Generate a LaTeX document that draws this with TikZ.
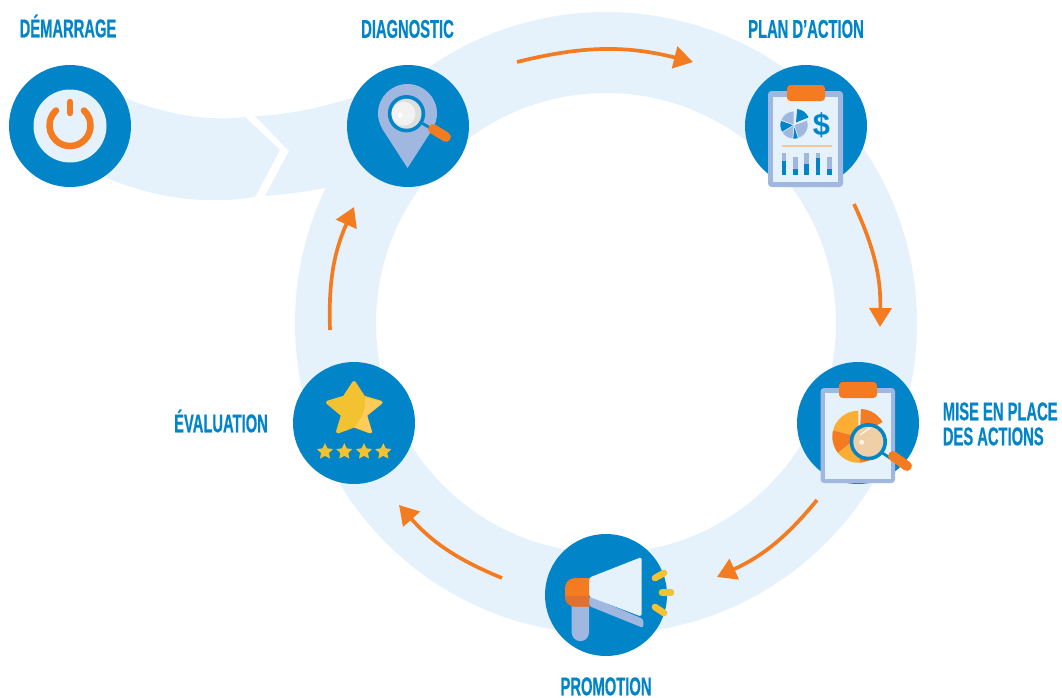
\documentclass[tikz,border=0pt]{standalone}
\usepackage{fontspec}
\usetikzlibrary{positioning,calc,arrows.meta,shapes.geometric}
\newfontfamily\labelfont[FakeStretch=0.575,FakeBold=0.5]{Liberation Sans Bold}
\newfontfamily\dollarfont{Liberation Sans Bold}
\definecolor{bluedisc}{HTML}{0284C8}
\definecolor{ringblue}{HTML}{E5F2FB}
\definecolor{paleblue}{HTML}{A0B8E0}
\definecolor{flowor}{HTML}{F47B20}
\definecolor{darkor}{HTML}{E07030}
\definecolor{lightor}{HTML}{FBAE33}
\definecolor{peach}{HTML}{EFCFA5}
\definecolor{yellowst}{HTML}{F2C230}
\definecolor{lightst}{HTML}{FFCC5C}

\begin{document}
\begin{tikzpicture}[x=0.02cm,y=-0.02cm]
        \tikzstyle{disc}=[circle, fill=bluedisc, inner sep=0pt, minimum size=2.44cm]
        \tikzstyle{steplabel}=[text=bluedisc, inner sep=0pt, text height=0.37cm, text depth=0pt, font=\labelfont\fontsize{14.6}{16}\selectfont]
        \tikzstyle{flow}=[draw=flowor, line width=2.1pt, -{Triangle[length=0.38cm,width=0.44cm]}]
        \tikzstyle{tinystar}=[star, star points=5, star point ratio=2.05, fill=yellowst, inner sep=0pt, minimum size=0.34cm]

        \useasboundingbox (0,0) rectangle (1062,697);

        \fill[ringblue, even odd rule] (606,323) circle [radius=311] (606,323) circle [radius=230];
        \fill[ringblue] (120,96) .. controls (160,113) and (205,122) .. (245,117) -- (280,150) -- (255,197)
            .. controls (205,205) and (155,198) .. (107,178) -- (70,126) -- cycle;
        \fill[ringblue] (255,116) .. controls (290,115) and (322,107) .. (355,97) -- (408,126) -- (345,190)
            -- (325,188) .. controls (305,192) and (285,194) .. (265,196) -- (289,151) -- cycle;

        \node[disc] (start) at (70,126) {};
        \node[disc] (diag) at (408,126) {};
        \node[disc] (plan) at (806,126) {};
        \node[disc] (mise) at (858,423) {};
        \node[disc] (promo) at (606,595) {};
        \node[disc] (eval) at (354,423) {};

        \node[steplabel] (startlabel) at (68,28) {DÉMARRAGE};
        \node[steplabel] (diaglabel) at (407.5,28.5) {DIAGNOSTIC};
        \node[steplabel] (planlabel) at (806,28.5) {PLAN D’ACTION};
        \node[steplabel, anchor=west] (miselabel) at (942.5,411) {MISE EN PLACE};
        \node[steplabel, anchor=west] (miselabelb) at (942.5,436) {DES ACTIONS};
        \node[steplabel] (promolabel) at (606,686) {PROMOTION};
        \node[steplabel] (evallabel) at (221,423) {ÉVALUATION};

        \coordinate (fa) at (517,62);
        \coordinate (fb) at (693,62);
        \coordinate (fc) at (854,204);
        \coordinate (fd) at (880,327);
        \coordinate (fe) at (817,500);
        \coordinate (ff) at (717,577);
        \coordinate (fg) at (502,578);
        \coordinate (fh) at (399,505);
        \coordinate (fi) at (330,330);
        \coordinate (fj) at (354,207);
        \draw[flow] (fa) to[bend left=14] (fb);
        \draw[flow] (fc) to[bend left=13] (fd);
        \draw[flow] (fe) to[bend left=13] (ff);
        \draw[flow] (fg) to[bend left=13] (fh);
        \draw[flow] (fi) to[bend left=13] (fj);

        \fill[ringblue] (70,126) circle [radius=36.5];
        \draw[flowor, line width=3.7pt, line cap=round] ($(70,125.5)+(-47:20.5)$) arc [start angle=-47, end angle=227, radius=20.5];
        \draw[flowor, line width=3.7pt, line cap=round] (70,102) -- (70,113);

        \fill[paleblue] (407.5,168) -- (383,130) .. controls (379,123) and (378,118) .. (378,113.5)
            arc [start angle=180, end angle=360, radius=29.5] .. controls (437,118) and (436,123) .. (432,130) -- cycle;
        \draw[bluedisc, line width=1.6pt] (420,122) -- (432,129);
        \draw[flowor, line width=5.6pt, line cap=round] (433,129) -- (446,137);
        \fill[bluedisc] (406.5,113.7) circle [radius=18.7];
        \fill[black!13] (406.5,113.7) circle [radius=15];
        \fill[black!5] (403.5,113.7) circle [radius=12];
        \fill[white] (400,115) circle [radius=2.5];

        \fill[paleblue, rounded corners=2pt] (768,91) rectangle (843,187);
        \fill[ringblue] (773,97) rectangle (838,182);
        \fill[flowor, rounded corners=2pt] (787,101) -- (787,85) -- (825,85) -- (825,101) -- cycle;
        \foreach \a/\b/\c in {-20/72/paleblue, 72/95/bluedisc, 95/149/paleblue, 149/200/bluedisc, 200/270/paleblue}
            \filldraw[fill=\c, draw=ringblue, line width=0.3pt] (794,125) -- ++(\a:14) arc [start angle=\a, end angle=\b, radius=14] -- cycle;
        \fill[bluedisc] (796,122.5) -- ++(-85:13.5) arc [start angle=-85, end angle=-22, radius=13.5] -- cycle;
        \node[text=bluedisc, inner sep=0pt, font=\dollarfont\fontsize{17.5}{18}\selectfont] (dollar) at (821.5,125) {\$};
        \draw[flowor!45, line width=0.9pt] (782,146) -- (832,146);
        \foreach \x/\t/\m in {784/152.7/160.7, 795.7/156.7/169.3, 806.7/152.7/164.3, 818/152.7/158.3, 829.3/156.7/169.3} {
            \fill[paleblue] ({\x-2.3},\t) rectangle ({\x+2.3},\m);
            \fill[bluedisc] ({\x-2.3},\m) rectangle ({\x+2.3},175);
        }

        \fill[paleblue, rounded corners=2pt] (820.5,388) rectangle (895,483);
        \fill[ringblue] (825,393) rectangle (891,479);
        \fill[flowor, rounded corners=2pt] (839,398) -- (839,382) -- (877,382) -- (877,398) -- cycle;
        \foreach \a/\b/\c in {270/194/lightor, 194/141/flowor, 141/87/lightor, 87/0/flowor}
            \fill[\c] (858.3,436.7) -- ++(\a:26) arc [start angle=\a, end angle=\b, radius=26] -- cycle;
        \fill[flowor] (860,435) -- ++(-88:26) arc [start angle=-88, end angle=-30, radius=26] -- cycle;
        \draw[bluedisc, line width=1.6pt] (881,452) -- (893,460);
        \draw[flowor, line width=5.6pt, line cap=round] (893,456) -- (907,466);
        \fill[bluedisc] (868.3,441.7) circle [radius=18.7];
        \fill[peach] (868.3,441.7) circle [radius=15];
        \draw[white, line width=0.6pt] (860,435) -- (870,428);
        \fill[white!70!peach] (861.7,442.3) circle [radius=2.5];

        \fill[paleblue, rounded corners=1.5pt] (589,596) -- (643.3,619) -- (643.3,628) -- (589,606) -- cycle;
        \fill[ringblue, rounded corners=1.5pt] (589,577.7) -- (641.7,557) -- (641.7,616.7) -- (589,596.7) -- cycle;
        \fill[paleblue] (571.7,600) -- (589,600) -- (589,632.5) arc [start angle=0, end angle=180, radius=8.65] -- cycle;
        \fill[flowor] (589,578) -- (575,578) arc [start angle=270, end angle=180, radius=10] -- (565,596.7)
            arc [start angle=180, end angle=90, radius=10] -- (589,606.7) -- cycle;
        \fill[darkor] (589,596) -- (565,596) -- (565,596.7) arc [start angle=180, end angle=90, radius=10] -- (589,606.7) -- cycle;
        \draw[yellowst, line width=3.8pt, line cap=round] (655,578) -- (664,573);
        \draw[yellowst, line width=3.8pt, line cap=round] (662,592.7) -- (671,592.7);
        \draw[yellowst, line width=3.8pt, line cap=round] (655,607) -- (664,613);

        \filldraw[fill=yellowst, draw=yellowst, line width=2.2pt, line join=round] (354,383) -- (363.5,397.5) -- (380.5,402.5) -- (365,415) -- (370,431.5)
            -- (354,425.5) -- (338,431.5) -- (343,415) -- (328,402.5) -- (344.5,397.5) -- cycle;
        \filldraw[fill=lightst, draw=lightst, line width=1pt, line join=round] (366,398.5) -- (381.5,402.5) -- (366,415) -- (371,432) -- (356,426.5)
            .. controls (362,420) and (367,410) .. cycle;
        \foreach \x in {325,344.3,364,383.3}
            \node[tinystar] (tiny\x) at (\x,451.7) {};
    \end{tikzpicture}
\end{document}
